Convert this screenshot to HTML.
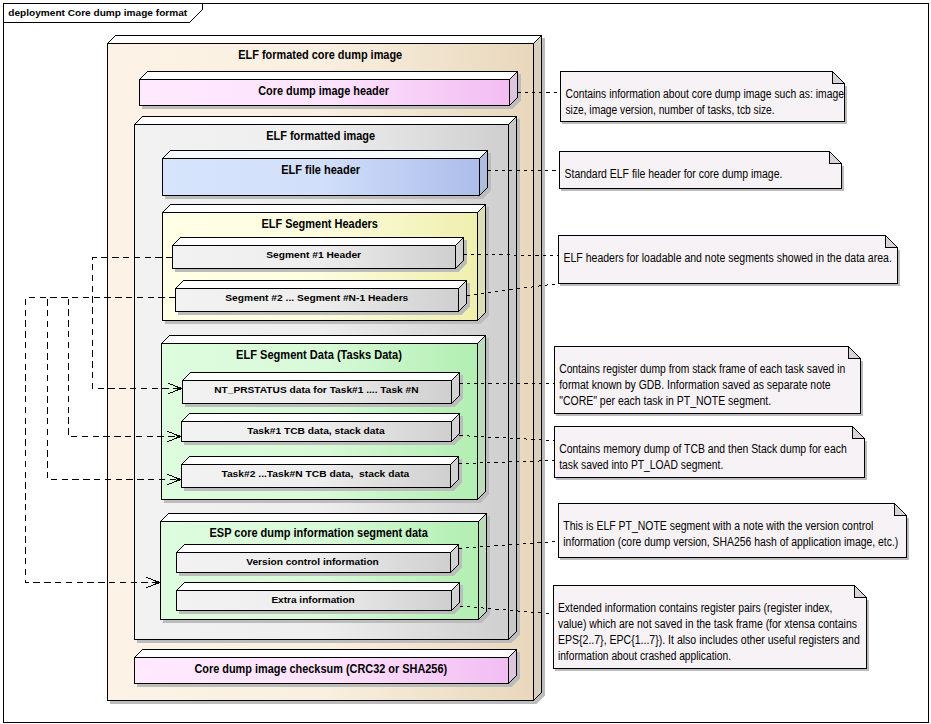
<!DOCTYPE html>
<html lang="en"><head><meta charset="utf-8"><title>Core dump image format</title>
<style>
html,body{margin:0;padding:0;background:#fff}
svg{display:block;shape-rendering:crispEdges}
.ln{stroke:#000;stroke-width:1;stroke-linejoin:miter}
.sh{fill:#bcbcbc;stroke:#bcbcbc;stroke-width:1}
.dt{stroke:#000;stroke-width:1;stroke-dasharray:3.2 4;fill:none}
.da{stroke:#000;stroke-width:1;stroke-dasharray:6.4 4.4;fill:none}
.ah{stroke:#000;stroke-width:1;fill:none}
text{white-space:pre;font-family:"Liberation Sans",sans-serif;fill:#000}
.tb{font-weight:bold;font-size:12px}
.sb{font-weight:bold;font-size:9.6px}
.fb{font-weight:bold;font-size:9.6px}
.nt{font-size:12px}
</style></head>
<body>
<svg width="931" height="724" viewBox="0 0 931 724">
<defs>
<linearGradient id="gO" x1="0" y1="0" x2="1" y2="0"><stop offset="0" stop-color="#fcf3e6"/><stop offset="0.5" stop-color="#faf0e1"/><stop offset="1" stop-color="#e8d7bc"/></linearGradient>
<linearGradient id="gP" x1="0" y1="0" x2="1" y2="0"><stop offset="0" stop-color="#fee9fe"/><stop offset="0.5" stop-color="#fde4fd"/><stop offset="1" stop-color="#f2bdf2"/></linearGradient>
<linearGradient id="gG" x1="0" y1="0" x2="1" y2="0"><stop offset="0" stop-color="#f2f2f2"/><stop offset="0.5" stop-color="#eeeeee"/><stop offset="1" stop-color="#cfcfcf"/></linearGradient>
<linearGradient id="gB" x1="0" y1="0" x2="1" y2="0"><stop offset="0" stop-color="#d6e4fc"/><stop offset="0.5" stop-color="#d1dffa"/><stop offset="1" stop-color="#adbdea"/></linearGradient>
<linearGradient id="gY" x1="0" y1="0" x2="1" y2="0"><stop offset="0" stop-color="#ffffe6"/><stop offset="0.5" stop-color="#fdfddf"/><stop offset="1" stop-color="#efefad"/></linearGradient>
<linearGradient id="gN" x1="0" y1="0" x2="1" y2="0"><stop offset="0" stop-color="#defcde"/><stop offset="0.5" stop-color="#d9fad9"/><stop offset="1" stop-color="#b2eeb2"/></linearGradient>
</defs>
<rect class="ln" x="3.5" y="3.5" width="925" height="719" fill="#fff"/>
<polyline class="ln" fill="none" points="3.5,22.5 189.5,22.5 202.5,9.5 202.5,3.5"/>
<text class="fb" x="8.3" y="16" textLength="178.9" lengthAdjust="spacingAndGlyphs" text-anchor="start">deployment Core dump image format</text>
<polygon class="sh" points="110.5,46.5 118.5,38.5 544.5,38.5 544.5,695.5 536.5,703.5 110.5,703.5"/>
<rect class="ln" x="107.5" y="43.5" width="426.0" height="657.0" fill="url(#gO)"/>
<polygon class="ln" fill="#fff" points="107.5,43.5 115.5,35.5 541.5,35.5 533.5,43.5"/>
<polygon class="ln" fill="#d9cfbf" points="533.5,43.5 541.5,35.5 541.5,692.5 533.5,700.5"/>
<polygon class="sh" points="142.5,82.5 150.5,74.5 520.5,74.5 520.5,100.5 512.5,108.5 142.5,108.5"/>
<rect class="ln" x="139.5" y="79.5" width="370.0" height="26.0" fill="url(#gP)"/>
<polygon class="ln" fill="#fff" points="139.5,79.5 147.5,71.5 517.5,71.5 509.5,79.5"/>
<polygon class="ln" fill="#dec4de" points="509.5,79.5 517.5,71.5 517.5,97.5 509.5,105.5"/>
<polygon class="sh" points="137.5,127.5 145.5,119.5 519.5,119.5 519.5,634.5 511.5,642.5 137.5,642.5"/>
<rect class="ln" x="134.5" y="124.5" width="374.0" height="515.0" fill="url(#gG)"/>
<polygon class="ln" fill="#fff" points="134.5,124.5 142.5,116.5 516.5,116.5 508.5,124.5"/>
<polygon class="ln" fill="#c8c8c8" points="508.5,124.5 516.5,116.5 516.5,631.5 508.5,639.5"/>
<polygon class="sh" points="165.5,161.5 173.5,153.5 490.5,153.5 490.5,190.5 482.5,198.5 165.5,198.5"/>
<rect class="ln" x="162.5" y="158.5" width="317.0" height="37.0" fill="url(#gB)"/>
<polygon class="ln" fill="#f5fbff" points="162.5,158.5 170.5,150.5 487.5,150.5 479.5,158.5"/>
<polygon class="ln" fill="#b0bcdc" points="479.5,158.5 487.5,150.5 487.5,187.5 479.5,195.5"/>
<polygon class="sh" points="165.5,215.5 173.5,207.5 488.5,207.5 488.5,315.5 480.5,323.5 165.5,323.5"/>
<rect class="ln" x="162.5" y="212.5" width="315.0" height="108.0" fill="url(#gY)"/>
<polygon class="ln" fill="#fff" points="162.5,212.5 170.5,204.5 485.5,204.5 477.5,212.5"/>
<polygon class="ln" fill="#deddb8" points="477.5,212.5 485.5,204.5 485.5,312.5 477.5,320.5"/>
<polygon class="sh" points="175.5,248.5 183.5,240.5 466.5,240.5 466.5,263.5 458.5,271.5 175.5,271.5"/>
<rect class="ln" x="172.5" y="245.5" width="283.0" height="23.0" fill="url(#gG)"/>
<polygon class="ln" fill="#fff" points="172.5,245.5 180.5,237.5 463.5,237.5 455.5,245.5"/>
<polygon class="ln" fill="#d2d2d2" points="455.5,245.5 463.5,237.5 463.5,260.5 455.5,268.5"/>
<polygon class="sh" points="178.5,291.5 186.5,283.5 469.5,283.5 469.5,306.5 461.5,314.5 178.5,314.5"/>
<rect class="ln" x="175.5" y="288.5" width="283.0" height="23.0" fill="url(#gG)"/>
<polygon class="ln" fill="#fff" points="175.5,288.5 183.5,280.5 466.5,280.5 458.5,288.5"/>
<polygon class="ln" fill="#d2d2d2" points="458.5,288.5 466.5,280.5 466.5,303.5 458.5,311.5"/>
<polygon class="sh" points="164.5,346.5 172.5,338.5 488.5,338.5 488.5,494.5 480.5,502.5 164.5,502.5"/>
<rect class="ln" x="161.5" y="343.5" width="316.0" height="156.0" fill="url(#gN)"/>
<polygon class="ln" fill="#fff" points="161.5,343.5 169.5,335.5 485.5,335.5 477.5,343.5"/>
<polygon class="ln" fill="#bcdcbc" points="477.5,343.5 485.5,335.5 485.5,491.5 477.5,499.5"/>
<polygon class="sh" points="185.5,383.5 193.5,375.5 462.5,375.5 462.5,398.5 454.5,406.5 185.5,406.5"/>
<rect class="ln" x="182.5" y="380.5" width="269.0" height="23.0" fill="url(#gG)"/>
<polygon class="ln" fill="#fff" points="182.5,380.5 190.5,372.5 459.5,372.5 451.5,380.5"/>
<polygon class="ln" fill="#d2d2d2" points="451.5,380.5 459.5,372.5 459.5,395.5 451.5,403.5"/>
<polygon class="sh" points="184.5,424.5 192.5,416.5 462.5,416.5 462.5,436.5 454.5,444.5 184.5,444.5"/>
<rect class="ln" x="181.5" y="421.5" width="270.0" height="20.0" fill="url(#gG)"/>
<polygon class="ln" fill="#fff" points="181.5,421.5 189.5,413.5 459.5,413.5 451.5,421.5"/>
<polygon class="ln" fill="#d2d2d2" points="451.5,421.5 459.5,413.5 459.5,433.5 451.5,441.5"/>
<polygon class="sh" points="184.5,467.5 192.5,459.5 461.5,459.5 461.5,482.5 453.5,490.5 184.5,490.5"/>
<rect class="ln" x="181.5" y="464.5" width="269.0" height="23.0" fill="url(#gG)"/>
<polygon class="ln" fill="#fff" points="181.5,464.5 189.5,456.5 458.5,456.5 450.5,464.5"/>
<polygon class="ln" fill="#d2d2d2" points="450.5,464.5 458.5,456.5 458.5,479.5 450.5,487.5"/>
<polygon class="sh" points="163.5,524.5 171.5,516.5 489.5,516.5 489.5,614.5 481.5,622.5 163.5,622.5"/>
<rect class="ln" x="160.5" y="521.5" width="318.0" height="98.0" fill="url(#gN)"/>
<polygon class="ln" fill="#fff" points="160.5,521.5 168.5,513.5 486.5,513.5 478.5,521.5"/>
<polygon class="ln" fill="#bcdcbc" points="478.5,521.5 486.5,513.5 486.5,611.5 478.5,619.5"/>
<polygon class="sh" points="179.5,555.5 187.5,547.5 461.5,547.5 461.5,567.5 453.5,575.5 179.5,575.5"/>
<rect class="ln" x="176.5" y="552.5" width="274.0" height="20.0" fill="url(#gG)"/>
<polygon class="ln" fill="#fff" points="176.5,552.5 184.5,544.5 458.5,544.5 450.5,552.5"/>
<polygon class="ln" fill="#d2d2d2" points="450.5,552.5 458.5,544.5 458.5,564.5 450.5,572.5"/>
<polygon class="sh" points="179.5,593.5 187.5,585.5 462.5,585.5 462.5,605.5 454.5,613.5 179.5,613.5"/>
<rect class="ln" x="176.5" y="590.5" width="275.0" height="20.0" fill="url(#gG)"/>
<polygon class="ln" fill="#fff" points="176.5,590.5 184.5,582.5 459.5,582.5 451.5,590.5"/>
<polygon class="ln" fill="#d2d2d2" points="451.5,590.5 459.5,582.5 459.5,602.5 451.5,610.5"/>
<polygon class="sh" points="137.5,660.5 145.5,652.5 519.5,652.5 519.5,678.5 511.5,686.5 137.5,686.5"/>
<rect class="ln" x="134.5" y="657.5" width="374.0" height="26.0" fill="url(#gP)"/>
<polygon class="ln" fill="#fff" points="134.5,657.5 142.5,649.5 516.5,649.5 508.5,657.5"/>
<polygon class="ln" fill="#dec4de" points="508.5,657.5 516.5,649.5 516.5,675.5 508.5,683.5"/>
<rect fill="#bcbcbc" x="845.0" y="86.0" width="2" height="38.0"/>
<rect fill="#bcbcbc" x="562.0" y="122.0" width="285.0" height="2"/>
<polygon class="ln" fill="#f7f2f6" points="560.5,71.5 832.5,71.5 844.5,83.5 844.5,121.5 560.5,121.5"/>
<polygon class="ln" fill="#d8d3da" points="832.5,71.5 832.5,83.5 844.5,83.5"/>
<rect fill="#bcbcbc" x="842.0" y="166.0" width="2" height="25.0"/>
<rect fill="#bcbcbc" x="561.0" y="189.0" width="283.0" height="2"/>
<polygon class="ln" fill="#f7f2f6" points="559.5,151.5 829.5,151.5 841.5,163.5 841.5,188.5 559.5,188.5"/>
<polygon class="ln" fill="#d8d3da" points="829.5,151.5 829.5,163.5 841.5,163.5"/>
<rect fill="#bcbcbc" x="898.0" y="250.0" width="2" height="36.0"/>
<rect fill="#bcbcbc" x="560.0" y="284.0" width="340.0" height="2"/>
<polygon class="ln" fill="#f7f2f6" points="558.5,235.5 885.5,235.5 897.5,247.5 897.5,283.5 558.5,283.5"/>
<polygon class="ln" fill="#d8d3da" points="885.5,235.5 885.5,247.5 897.5,247.5"/>
<rect fill="#bcbcbc" x="861.0" y="361.0" width="2" height="55.0"/>
<rect fill="#bcbcbc" x="556.0" y="414.0" width="307.0" height="2"/>
<polygon class="ln" fill="#f7f2f6" points="554.5,346.5 848.5,346.5 860.5,358.5 860.5,413.5 554.5,413.5"/>
<polygon class="ln" fill="#d8d3da" points="848.5,346.5 848.5,358.5 860.5,358.5"/>
<rect fill="#bcbcbc" x="865.0" y="441.0" width="2" height="39.0"/>
<rect fill="#bcbcbc" x="556.0" y="478.0" width="311.0" height="2"/>
<polygon class="ln" fill="#f7f2f6" points="554.5,426.5 852.5,426.5 864.5,438.5 864.5,477.5 554.5,477.5"/>
<polygon class="ln" fill="#d8d3da" points="852.5,426.5 852.5,438.5 864.5,438.5"/>
<rect fill="#bcbcbc" x="907.0" y="518.0" width="2" height="42.0"/>
<rect fill="#bcbcbc" x="560.0" y="558.0" width="349.0" height="2"/>
<polygon class="ln" fill="#f7f2f6" points="558.5,503.5 894.5,503.5 906.5,515.5 906.5,557.5 558.5,557.5"/>
<polygon class="ln" fill="#d8d3da" points="894.5,503.5 894.5,515.5 906.5,515.5"/>
<rect fill="#bcbcbc" x="867.0" y="600.0" width="2" height="71.0"/>
<rect fill="#bcbcbc" x="555.0" y="669.0" width="314.0" height="2"/>
<polygon class="ln" fill="#f7f2f6" points="553.5,585.5 854.5,585.5 866.5,597.5 866.5,668.5 553.5,668.5"/>
<polygon class="ln" fill="#d8d3da" points="854.5,585.5 854.5,597.5 866.5,597.5"/>
<line class="dt" x1="517.5" y1="92.5" x2="560.5" y2="92.5"/>
<line class="dt" x1="487.5" y1="170.5" x2="559.5" y2="170.5"/>
<line class="dt" x1="463.5" y1="254.5" x2="558.5" y2="255.5"/>
<line class="dt" x1="466.5" y1="295.5" x2="558.5" y2="283.5"/>
<line class="dt" x1="459.5" y1="383.5" x2="554.5" y2="383.5"/>
<line class="dt" x1="459.5" y1="435.5" x2="554.5" y2="440.5"/>
<line class="dt" x1="458.5" y1="463.7" x2="554.5" y2="460.5"/>
<line class="dt" x1="458.5" y1="548.5" x2="558.5" y2="541.5"/>
<line class="dt" x1="459.5" y1="606" x2="553.5" y2="614"/>
<polyline class="da" points="172.5,257.5 92.5,257.5 92.5,388.5 182.5,388.5"/>
<polyline class="ah" points="168.0,383.0 181.0,388.5 168.0,394.0"/>
<rect x="178.0" y="387.0" width="3" height="3" fill="#000"/>
<polyline class="da" points="175.5,297.5 68.5,297.5 68.5,436.5 181.5,436.5"/>
<polyline class="ah" points="167.0,431.0 180.0,436.5 167.0,442.0"/>
<rect x="177.0" y="435.0" width="3" height="3" fill="#000"/>
<polyline class="da" points="175.5,297.5 47.5,297.5 47.5,479.5 181.5,479.5"/>
<polyline class="ah" points="167.0,474.0 180.0,479.5 167.0,485.0"/>
<rect x="177.0" y="478.0" width="3" height="3" fill="#000"/>
<polyline class="da" points="175.5,297.5 25.5,297.5 25.5,582.5 160.5,582.5"/>
<polyline class="ah" points="146.0,577.0 159.0,582.5 146.0,588.0"/>
<rect x="156.0" y="581.0" width="3" height="3" fill="#000"/>
<text class="tb" x="320.25" y="59" textLength="163.9" lengthAdjust="spacingAndGlyphs" text-anchor="middle">ELF formated core dump image</text>
<text class="tb" x="323.65" y="95" textLength="130.9" lengthAdjust="spacingAndGlyphs" text-anchor="middle">Core dump image header</text>
<text class="tb" x="320.65" y="140" textLength="108.9" lengthAdjust="spacingAndGlyphs" text-anchor="middle">ELF formatted image</text>
<text class="tb" x="320.65" y="174" textLength="78.9" lengthAdjust="spacingAndGlyphs" text-anchor="middle">ELF file header</text>
<text class="tb" x="319.65" y="228" textLength="116.5" lengthAdjust="spacingAndGlyphs" text-anchor="middle">ELF Segment Headers</text>
<text class="sb" x="313.7" y="258" textLength="94.8" lengthAdjust="spacingAndGlyphs" text-anchor="middle">Segment #1 Header</text>
<text class="sb" x="316.8" y="301" textLength="183.0" lengthAdjust="spacingAndGlyphs" text-anchor="middle">Segment #2 ... Segment #N-1 Headers</text>
<text class="tb" x="319.0" y="359" textLength="165.8" lengthAdjust="spacingAndGlyphs" text-anchor="middle">ELF Segment Data (Tasks Data)</text>
<text class="sb" x="316.4" y="393" textLength="204.4" lengthAdjust="spacingAndGlyphs" text-anchor="middle">NT_PRSTATUS data for Task#1 .... Task #N</text>
<text class="sb" x="315.9" y="434" textLength="137.4" lengthAdjust="spacingAndGlyphs" text-anchor="middle">Task#1 TCB data, stack data</text>
<text class="sb" x="315.35" y="477" textLength="187.9" lengthAdjust="spacingAndGlyphs" text-anchor="middle">Task#2 ...Task#N TCB data,  stack data</text>
<text class="tb" x="318.7" y="537" textLength="218.4" lengthAdjust="spacingAndGlyphs" text-anchor="middle">ESP core dump information segment data</text>
<text class="sb" x="312.5" y="565" textLength="132.6" lengthAdjust="spacingAndGlyphs" text-anchor="middle">Version control information</text>
<text class="sb" x="313.05" y="603" textLength="83.3" lengthAdjust="spacingAndGlyphs" text-anchor="middle">Extra information</text>
<text class="tb" x="320.75" y="673" textLength="252.7" lengthAdjust="spacingAndGlyphs" text-anchor="middle">Core dump image checksum (CRC32 or SHA256)</text>
<text class="nt" x="565.5" y="98" textLength="278.4" lengthAdjust="spacingAndGlyphs" text-anchor="start">Contains information about core dump image such as: image</text>
<text class="nt" x="565.5" y="114" textLength="209.1" lengthAdjust="spacingAndGlyphs" text-anchor="start">size, image version, number of tasks, tcb size.</text>
<text class="nt" x="564.5" y="178" textLength="217.9" lengthAdjust="spacingAndGlyphs" text-anchor="start">Standard ELF file header for core dump image.</text>
<text class="nt" x="563.5" y="262" textLength="328.3" lengthAdjust="spacingAndGlyphs" text-anchor="start">ELF headers for loadable and note segments showed in the data area.</text>
<text class="nt" x="559.2" y="373" textLength="286.0" lengthAdjust="spacingAndGlyphs" text-anchor="start">Contains register dump from stack frame of each task saved in</text>
<text class="nt" x="559.2" y="389" textLength="271.5" lengthAdjust="spacingAndGlyphs" text-anchor="start">format known by GDB. Information saved as separate note</text>
<text class="nt" x="559.2" y="405" textLength="212.0" lengthAdjust="spacingAndGlyphs" text-anchor="start">&quot;CORE&quot; per each task in PT_NOTE segment.</text>
<text class="nt" x="559.2" y="453" textLength="287.5" lengthAdjust="spacingAndGlyphs" text-anchor="start">Contains memory dump of TCB and then Stack dump for each</text>
<text class="nt" x="559.2" y="469" textLength="164.1" lengthAdjust="spacingAndGlyphs" text-anchor="start">task saved into PT_LOAD segment.</text>
<text class="nt" x="563.3" y="530" textLength="310.0" lengthAdjust="spacingAndGlyphs" text-anchor="start">This is ELF PT_NOTE segment with a note with the version control</text>
<text class="nt" x="563.3" y="546" textLength="335.0" lengthAdjust="spacingAndGlyphs" text-anchor="start">information (core dump version, SHA256 hash of application image, etc.)</text>
<text class="nt" x="557.9" y="612" textLength="274.5" lengthAdjust="spacingAndGlyphs" text-anchor="start">Extended information contains register pairs (register index,</text>
<text class="nt" x="557.9" y="628" textLength="299.1" lengthAdjust="spacingAndGlyphs" text-anchor="start">value) which are not saved in the task frame (for xtensa contains</text>
<text class="nt" x="557.9" y="644" textLength="301.9" lengthAdjust="spacingAndGlyphs" text-anchor="start">EPS{2..7}, EPC{1...7}). It also includes other useful registers and</text>
<text class="nt" x="557.9" y="660" textLength="173.1" lengthAdjust="spacingAndGlyphs" text-anchor="start">information about crashed application.</text>
</svg>
</body></html>
